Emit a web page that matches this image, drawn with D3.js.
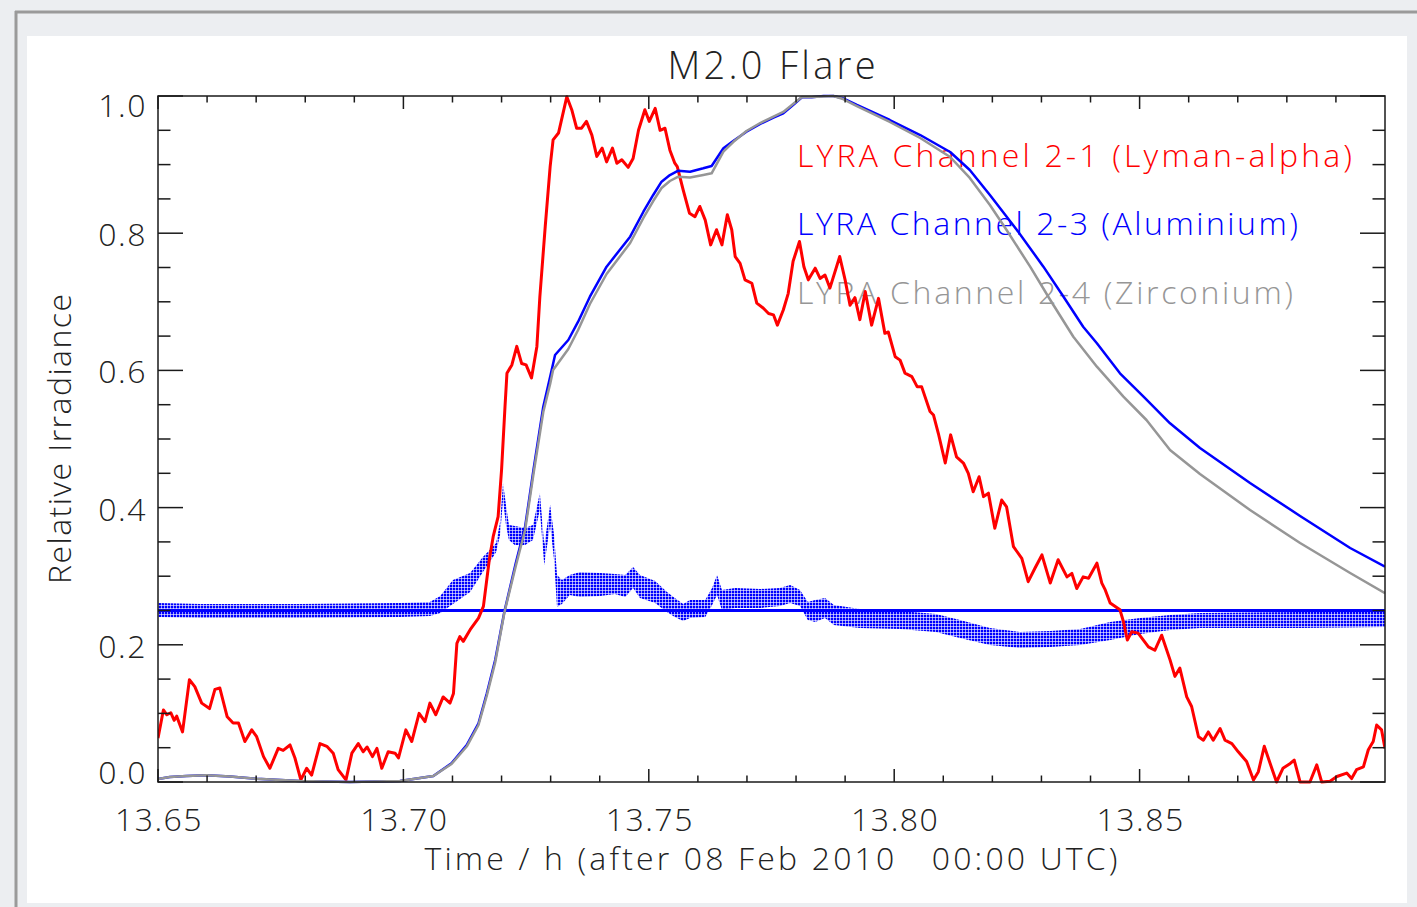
<!DOCTYPE html>
<html><head><meta charset="utf-8">
<script src="https://cdn.jsdelivr.net/npm/d3@7"></script>
<style>
html,body{margin:0;padding:0;background:#eceef1;}
svg{display:block;}
text{font-family:"Open Sans","DejaVu Sans",sans-serif;font-weight:300;fill:#222;white-space:pre;}
</style></head><body>
<svg id="chart" width="1417" height="907"></svg>
<script>
// ---------- texts ----------
const titleText = "M2.0 Flare";
const xAxisTitle = "Time / h (after 08 Feb 2010   00:00 UTC)";
const yAxisTitle = "Relative Irradiance";
const legendLabels = ["LYRA Channel 2-1 (Lyman-alpha)", "LYRA Channel 2-3 (Aluminium)", "LYRA Channel 2-4 (Zirconium)"];
const legendColors = ["#ff0000", "#0000ff", "#969696"];

// ---------- axes ----------
const xDomain = [13.65, 13.90];
const yDomain = [0, 1];
const xTickValues = [13.65, 13.70, 13.75, 13.80, 13.85];
const xTickLabels = ["13.65", "13.70", "13.75", "13.80", "13.85"];
const yTickValues = [0, 0.2, 0.4, 0.6, 0.8, 1.0];
const yTickLabels = ["0.0", "0.2", "0.4", "0.6", "0.8", "1.0"];
const xMinorTicks = [13.66,13.67,13.68,13.69,13.71,13.72,13.73,13.74,13.76,13.77,13.78,13.79,13.81,13.82,13.83,13.84,13.86,13.87,13.88,13.89];
const yMinorTicks = [0.05,0.1,0.15,0.25,0.3,0.35,0.45,0.5,0.55,0.65,0.7,0.75,0.85,0.9,0.95];

// ---------- data: [time (h), relative irradiance] ----------
const lymanAlpha = [[13.6500,0.064],[13.6511,0.105],[13.6518,0.098],[13.6526,0.101],[13.6533,0.090],[13.6538,0.096],[13.6550,0.073],[13.6564,0.149],[13.6575,0.139],[13.6589,0.115],[13.6605,0.107],[13.6616,0.135],[13.6626,0.137],[13.6641,0.095],[13.6653,0.086],[13.6664,0.086],[13.6677,0.059],[13.6691,0.076],[13.6701,0.066],[13.6715,0.037],[13.6728,0.020],[13.6745,0.049],[13.6755,0.046],[13.6769,0.054],[13.6779,0.035],[13.6791,0.003],[13.6803,0.020],[13.6813,0.010],[13.6830,0.056],[13.6844,0.052],[13.6857,0.042],[13.6867,0.018],[13.6883,0.003],[13.6895,0.042],[13.6908,0.056],[13.6918,0.044],[13.6926,0.051],[13.6937,0.037],[13.6946,0.049],[13.6956,0.020],[13.6969,0.044],[13.6983,0.042],[13.6990,0.035],[13.7005,0.076],[13.7017,0.059],[13.7032,0.100],[13.7044,0.088],[13.7054,0.115],[13.7066,0.098],[13.7081,0.124],[13.7095,0.115],[13.7102,0.129],[13.7109,0.202],[13.7115,0.212],[13.7122,0.205],[13.7136,0.222],[13.7153,0.239],[13.7163,0.256],[13.7175,0.324],[13.7183,0.358],[13.7193,0.387],[13.7200,0.455],[13.7207,0.547],[13.7211,0.596],[13.7221,0.608],[13.7231,0.635],[13.7241,0.610],[13.7250,0.608],[13.7261,0.589],[13.7272,0.635],[13.7278,0.707],[13.7289,0.810],[13.7299,0.897],[13.7305,0.936],[13.7316,0.946],[13.7333,0.999],[13.7343,0.980],[13.7353,0.953],[13.7363,0.953],[13.7373,0.963],[13.7384,0.943],[13.7394,0.912],[13.7405,0.924],[13.7414,0.904],[13.7426,0.924],[13.7435,0.902],[13.7445,0.907],[13.7458,0.896],[13.7468,0.909],[13.7479,0.950],[13.7492,0.980],[13.7501,0.963],[13.7513,0.982],[13.7523,0.950],[13.7533,0.953],[13.7543,0.921],[13.7553,0.902],[13.7558,0.897],[13.7570,0.863],[13.7583,0.829],[13.7594,0.824],[13.7604,0.839],[13.7615,0.819],[13.7626,0.783],[13.7638,0.805],[13.7649,0.783],[13.7660,0.827],[13.7669,0.805],[13.7676,0.766],[13.7686,0.756],[13.7696,0.732],[13.7710,0.727],[13.7720,0.698],[13.7733,0.691],[13.7744,0.683],[13.7754,0.681],[13.7762,0.666],[13.7774,0.688],[13.7784,0.712],[13.7794,0.759],[13.7807,0.788],[13.7816,0.751],[13.7825,0.732],[13.7839,0.749],[13.7849,0.734],[13.7859,0.739],[13.7869,0.720],[13.7889,0.766],[13.7900,0.732],[13.7910,0.695],[13.7920,0.706],[13.7930,0.674],[13.7941,0.715],[13.7954,0.666],[13.7968,0.705],[13.7981,0.654],[13.7988,0.656],[13.8002,0.620],[13.8012,0.615],[13.8022,0.596],[13.8036,0.591],[13.8047,0.576],[13.8056,0.576],[13.8073,0.540],[13.8080,0.535],[13.8090,0.508],[13.8104,0.465],[13.8115,0.506],[13.8127,0.474],[13.8141,0.465],[13.8151,0.450],[13.8161,0.423],[13.8173,0.445],[13.8182,0.416],[13.8192,0.421],[13.8205,0.370],[13.8219,0.411],[13.8229,0.401],[13.8243,0.343],[13.8260,0.326],[13.8273,0.292],[13.8287,0.312],[13.8301,0.331],[13.8318,0.290],[13.8334,0.324],[13.8352,0.299],[13.8362,0.304],[13.8372,0.282],[13.8385,0.299],[13.8396,0.297],[13.8413,0.319],[13.8423,0.290],[13.8430,0.280],[13.8440,0.261],[13.8460,0.251],[13.8467,0.234],[13.8475,0.207],[13.8484,0.219],[13.8497,0.217],[13.8518,0.197],[13.8531,0.192],[13.8545,0.214],[13.8562,0.178],[13.8572,0.154],[13.8582,0.166],[13.8596,0.124],[13.8606,0.110],[13.8620,0.066],[13.8630,0.061],[13.8640,0.073],[13.8650,0.061],[13.8664,0.078],[13.8674,0.061],[13.8688,0.056],[13.8701,0.044],[13.8718,0.030],[13.8732,0.003],[13.8742,0.015],[13.8754,0.052],[13.8766,0.027],[13.8779,0.000],[13.8792,0.020],[13.8807,0.027],[13.8815,0.032],[13.8827,0.000],[13.8847,0.000],[13.8861,0.025],[13.8871,0.000],[13.8888,0.001],[13.8902,0.008],[13.8922,0.013],[13.8932,0.005],[13.8942,0.018],[13.8956,0.022],[13.8966,0.047],[13.8976,0.059],[13.8983,0.083],[13.8993,0.076],[13.9000,0.049]];

const aluminium = [[13.6500,0.0044],[13.6524,0.0073],[13.6558,0.0087],[13.6599,0.0098],[13.6647,0.0080],[13.6701,0.0048],[13.6789,0.0015],[13.6891,0.0],[13.6993,0.0015],[13.7061,0.0087],[13.7098,0.0273],[13.7129,0.0539],[13.7153,0.0856],[13.7170,0.1293],[13.7187,0.1778],[13.7206,0.2493],[13.7229,0.3192],[13.7248,0.3722],[13.7265,0.4548],[13.7285,0.5471],[13.7299,0.5908],[13.7309,0.6224],[13.7336,0.6443],[13.7356,0.6710],[13.7380,0.7074],[13.7414,0.7512],[13.7462,0.7949],[13.7489,0.8313],[13.7509,0.8557],[13.7526,0.8751],[13.7543,0.8848],[13.7560,0.8911],[13.7584,0.8897],[13.7611,0.8946],[13.7628,0.8980],[13.7652,0.9238],[13.7672,0.9344],[13.7699,0.9480],[13.7727,0.9592],[13.7754,0.9684],[13.7774,0.9748],[13.7794,0.9869],[13.7812,0.9981],[13.7832,0.9981],[13.7856,1.0],[13.7876,1.0],[13.7896,0.9966],[13.7924,0.9869],[13.7991,0.9650],[13.8053,0.9431],[13.8114,0.9184],[13.8154,0.8921],[13.8195,0.8557],[13.8250,0.8047],[13.8304,0.7512],[13.8345,0.7074],[13.8385,0.6637],[13.8413,0.6395],[13.8460,0.5958],[13.8508,0.5617],[13.8562,0.5229],[13.8623,0.4869],[13.8725,0.4359],[13.8827,0.3878],[13.8929,0.3411],[13.9000,0.3138]];

const zirconium = [[13.6500,0.0044],[13.6524,0.0073],[13.6558,0.0087],[13.6599,0.0098],[13.6647,0.0080],[13.6701,0.0048],[13.6789,0.0015],[13.6891,0.0],[13.6993,0.0015],[13.7061,0.0087],[13.7098,0.0262],[13.7129,0.0517],[13.7153,0.0831],[13.7170,0.1261],[13.7187,0.1742],[13.7206,0.2478],[13.7229,0.3149],[13.7248,0.3673],[13.7265,0.4490],[13.7285,0.5394],[13.7299,0.5802],[13.7305,0.6006],[13.7336,0.6312],[13.7356,0.6589],[13.7380,0.6968],[13.7414,0.7405],[13.7462,0.7857],[13.7489,0.8222],[13.7509,0.8469],[13.7526,0.8659],[13.7543,0.8761],[13.7560,0.8824],[13.7584,0.8812],[13.7611,0.8848],[13.7628,0.8873],[13.7652,0.9188],[13.7672,0.9329],[13.7699,0.9490],[13.7727,0.9606],[13.7754,0.9701],[13.7774,0.9767],[13.7794,0.9883],[13.7812,0.9985],[13.7832,0.9985],[13.7856,0.9993],[13.7876,1.0],[13.7896,0.9956],[13.7924,0.9854],[13.7991,0.9621],[13.8053,0.9388],[13.8114,0.9111],[13.8154,0.8805],[13.8195,0.8411],[13.8229,0.8047],[13.8277,0.7512],[13.8318,0.7026],[13.8365,0.6491],[13.8413,0.6054],[13.8467,0.5617],[13.8514,0.5277],[13.8562,0.4840],[13.8623,0.4490],[13.8725,0.3965],[13.8827,0.3484],[13.8929,0.3047],[13.9000,0.2751]];

// Aluminium high-cadence scatter band: [time, upper envelope, lower envelope]
const aluminiumScatter = [[13.6500,0.2609,0.2405],[13.6586,0.2595,0.2391],[13.6789,0.2595,0.2391],[13.6993,0.2609,0.2405],[13.7054,0.2624,0.2420],[13.7075,0.2711,0.2464],[13.7101,0.2945,0.2595],[13.7136,0.3047,0.2770],[13.7162,0.3280,0.3061],[13.7176,0.3382,0.3207],[13.7189,0.3484,0.3353],[13.7197,0.3790,0.3601],[13.7203,0.4359,0.4111],[13.7209,0.4038,0.3746],[13.7215,0.3746,0.3528],[13.7227,0.3732,0.3455],[13.7248,0.3703,0.3455],[13.7264,0.3746,0.3528],[13.7278,0.4213,0.3965],[13.7287,0.3455,0.3163],[13.7299,0.4038,0.3746],[13.7307,0.3601,0.3236],[13.7313,0.3017,0.2551],[13.7323,0.2945,0.2595],[13.7339,0.3017,0.2726],[13.7360,0.3061,0.2697],[13.7401,0.3047,0.2711],[13.7431,0.3032,0.2741],[13.7452,0.3017,0.2697],[13.7468,0.3134,0.2828],[13.7482,0.3017,0.2682],[13.7513,0.2930,0.2609],[13.7537,0.2770,0.2478],[13.7553,0.2682,0.2405],[13.7570,0.2595,0.2347],[13.7584,0.2653,0.2391],[13.7615,0.2653,0.2405],[13.7629,0.2828,0.2580],[13.7639,0.3017,0.2726],[13.7649,0.2799,0.2507],[13.7676,0.2828,0.2536],[13.7727,0.2813,0.2536],[13.7767,0.2828,0.2566],[13.7788,0.2872,0.2609],[13.7808,0.2799,0.2566],[13.7824,0.2624,0.2362],[13.7839,0.2653,0.2332],[13.7859,0.2682,0.2391],[13.7877,0.2580,0.2289],[13.7930,0.2522,0.2245],[13.8012,0.2493,0.2230],[13.8085,0.2449,0.2187],[13.8134,0.2362,0.2099],[13.8195,0.2245,0.1997],[13.8256,0.2187,0.1953],[13.8318,0.2201,0.1968],[13.8379,0.2230,0.1997],[13.8440,0.2332,0.2070],[13.8501,0.2391,0.2157],[13.8562,0.2434,0.2216],[13.8623,0.2464,0.2245],[13.8827,0.2478,0.2245],[13.9000,0.2478,0.2259]];

const referenceLevel = 0.25;

// ---------- layout ----------
const plot = {left: 158, right: 1385, top: 96, bottom: 782};
const svg = d3.select("#chart");

svg.append("rect").attr("width", 1417).attr("height", 907).attr("fill", "#eceef1");
svg.append("line").attr("x1", 15).attr("x2", 1417).attr("y1", 12).attr("y2", 12).attr("stroke", "#9a9a9a").attr("stroke-width", 3);
svg.append("line").attr("x1", 16).attr("x2", 16).attr("y1", 11).attr("y2", 907).attr("stroke", "#9a9a9a").attr("stroke-width", 3);
svg.append("rect").attr("x", 27).attr("y", 36).attr("width", 1380).attr("height", 867).attr("fill", "#ffffff");

const defs = svg.append("defs");
defs.append("clipPath").attr("id", "plotClip").append("rect")
  .attr("x", plot.left).attr("y", plot.top - 2).attr("width", plot.right - plot.left).attr("height", plot.bottom - plot.top + 4);
const pat = defs.append("pattern").attr("id", "dotFill").attr("patternUnits", "userSpaceOnUse").attr("width", 3).attr("height", 3);
pat.append("rect").attr("width", 2.4).attr("height", 2.4).attr("fill", "#0000ff");

const x = d3.scaleLinear().domain(xDomain).range([plot.left, plot.right]);
const y = d3.scaleLinear().domain(yDomain).range([plot.bottom, plot.top]);

// title & axis titles
svg.append("text").attr("x", (plot.left + plot.right) / 2).attr("y", 79).attr("text-anchor", "middle")
  .attr("font-size", 38).attr("textLength", 208).attr("lengthAdjust", "spacing").text(titleText);
svg.append("text").attr("x", (plot.left + plot.right) / 2 - 0.5).attr("y", 870).attr("text-anchor", "middle")
  .attr("font-size", 32).attr("textLength", 693).attr("lengthAdjust", "spacing").text(xAxisTitle);
svg.append("text").attr("transform", `translate(71,${(plot.top + plot.bottom) / 2}) rotate(-90)`).attr("text-anchor", "middle")
  .attr("font-size", 32).attr("textLength", 290).attr("lengthAdjust", "spacing").text(yAxisTitle);

// legend texts (drawn under the curves)
const legendY = [167, 235, 304];
const legendLen = [555, 501, 496];
legendLabels.forEach((s, i) => {
  svg.append("text").attr("x", 797).attr("y", legendY[i]).attr("font-size", 32)
    .attr("textLength", legendLen[i]).attr("lengthAdjust", "spacing")
    .style("fill", legendColors[i]).text(s);
});

// data layer
const g = svg.append("g").attr("clip-path", "url(#plotClip)");

g.append("line").attr("x1", x(xDomain[0])).attr("x2", x(xDomain[1]))
  .attr("y1", y(referenceLevel)).attr("y2", y(referenceLevel)).attr("stroke", "#0000ff").attr("stroke-width", 3);

const band = d3.area().x(d => x(d[0])).y0(d => y(d[2])).y1(d => y(d[1]));
g.append("path").datum(aluminiumScatter).attr("d", band).attr("fill", "url(#dotFill)");

const line = d3.line().x(d => x(d[0])).y(d => y(d[1]));
g.append("path").datum(lymanAlpha).attr("d", line).attr("fill", "none").attr("stroke", "#ff0000").attr("stroke-width", 3).attr("stroke-linejoin", "round");
g.append("path").datum(aluminium).attr("d", line).attr("fill", "none").attr("stroke", "#0000ff").attr("stroke-width", 2.5).attr("stroke-linejoin", "round");
g.append("path").datum(zirconium).attr("d", line).attr("fill", "none").attr("stroke", "#969696").attr("stroke-width", 2.5).attr("stroke-linejoin", "round");

// axes box + ticks
const ax = svg.append("g").attr("stroke", "#1a1a1a").attr("stroke-width", 1.5);
ax.append("rect").attr("x", plot.left).attr("y", plot.top).attr("width", plot.right - plot.left).attr("height", plot.bottom - plot.top).attr("fill", "none");
function xTick(v, len) {
  ax.append("line").attr("x1", x(v)).attr("x2", x(v)).attr("y1", plot.bottom).attr("y2", plot.bottom - len);
  ax.append("line").attr("x1", x(v)).attr("x2", x(v)).attr("y1", plot.top).attr("y2", plot.top + len);
}
function yTick(v, len) {
  ax.append("line").attr("y1", y(v)).attr("y2", y(v)).attr("x1", plot.left).attr("x2", plot.left + len);
  ax.append("line").attr("y1", y(v)).attr("y2", y(v)).attr("x1", plot.right).attr("x2", plot.right - len);
}
xTickValues.forEach(v => xTick(v, 13));
xMinorTicks.forEach(v => xTick(v, 6.5));
yTickValues.forEach(v => yTick(v, 25));
yMinorTicks.forEach(v => yTick(v, 12.5));

xTickValues.forEach((v, i) => {
  svg.append("text").attr("x", x(v) + 1).attr("y", 831).attr("text-anchor", "middle")
    .attr("font-size", 32).attr("letter-spacing", 1.5).text(xTickLabels[i]);
});
yTickValues.forEach((v, i) => {
  const by = Math.max(117, Math.min(784, y(v) + 13));
  svg.append("text").attr("x", 147).attr("y", by).attr("text-anchor", "end")
    .attr("font-size", 32).attr("letter-spacing", 1.5).text(yTickLabels[i]);
});
</script>
</body></html>
